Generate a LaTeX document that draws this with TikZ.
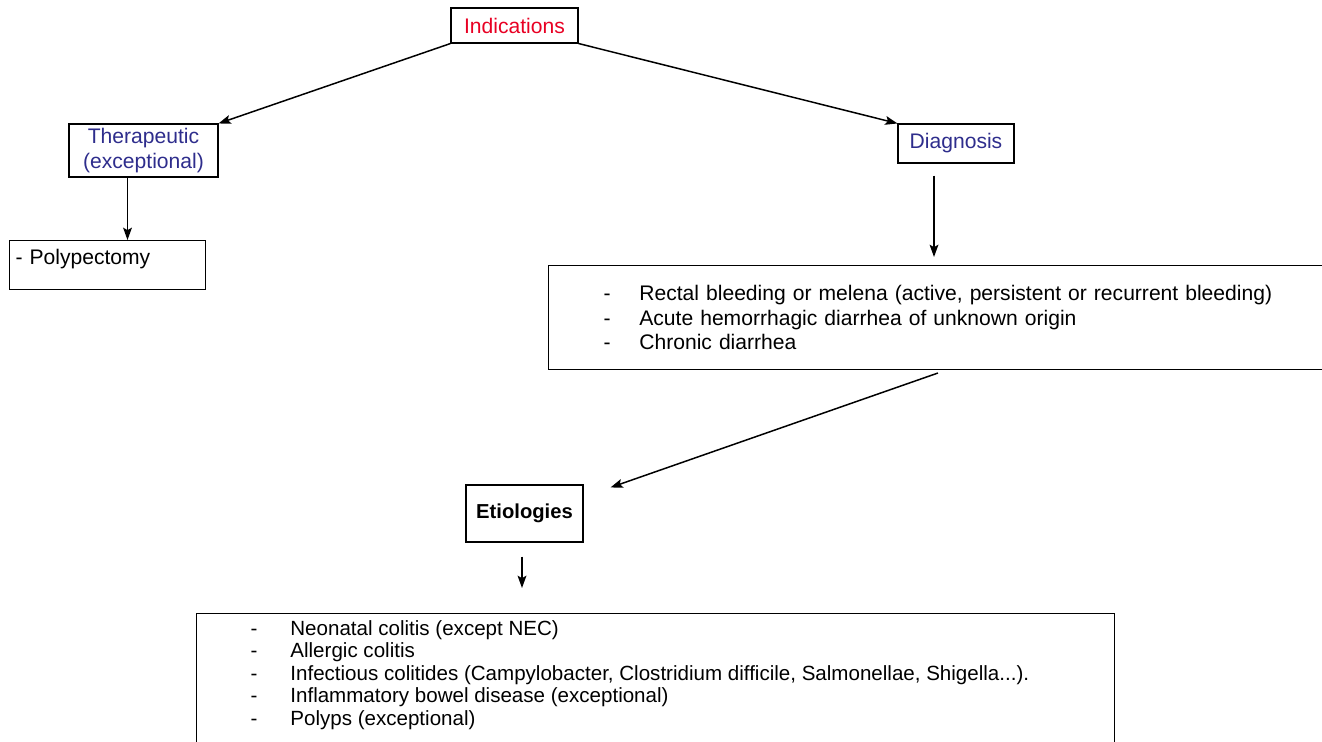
\documentclass[tikz,border=0pt]{standalone}
\usepackage{fontspec}
\setmainfont{Liberation Sans}
\usepackage{tikz}
\usetikzlibrary{arrows.meta, calc}

\definecolor{indred}{RGB}{232,0,35}
\definecolor{subblue}{RGB}{46,45,140}

\begin{document}
\begin{tikzpicture}[x=0.02cm, y=-0.02cm,
    box/.style={draw, line width=0.6pt, inner sep=0pt},
    arr/.style={-{Stealth[length=7pt, width=5pt, inset=1.4pt]}, line width=0.85pt},
    headfont/.style={font=\fontsize{12}{14.2}\selectfont}]
    \path[use as bounding box] (0,0) rectangle (1322,742);
    \clip (0,0) rectangle (1322,742);

    \node[box, headfont, text=indred, minimum width=2.54cm, minimum height=0.7cm] (ind) at (514.5,25.5) {Indications};
    \node[box, headfont, text=subblue, align=center, minimum width=2.98cm, minimum height=1.06cm] (ther) at (143.5,150.5) {Therapeutic\\(exceptional)};
    \node[box, headfont, text=subblue, minimum width=2.32cm, minimum height=0.78cm] (diag) at (956,143.5) {Diagnosis};
    \node[box, headfont, anchor=north west, text width=3.68cm, inner xsep=0.12cm, inner ysep=1.7pt,
          text height=12pt, text depth=12.4pt] (poly) at (9,240) {- Polypectomy};
    \node[box, anchor=north west, font=\fontsize{12}{13.9}\selectfont, align=left,
          text width=13.8cm, inner xsep=1.1cm, minimum height=2.08cm] (dlist) at (548,265)
        {\makebox[20.4pt][l]{-}Rectal bleeding or melena (active, persistent or recurrent bleeding)\\
         \makebox[20.4pt][l]{-}Acute hemorrhagic diarrhea of unknown origin\\
         \makebox[20.4pt][l]{-}Chronic diarrhea};
    \node[box, font=\fontsize{11.5}{13}\selectfont\bfseries, minimum width=2.34cm, minimum height=1.14cm] (etio) at (524.5,513.5) {Etiologies};
    \node[box, anchor=north west, inner xsep=1.08cm, inner ysep=0.14cm] (elist) at (196,613)
        {\begin{minipage}[c][2.8cm][t]{16.2cm}\fontsize{11.7}{12.8}\selectfont\raggedright
         \makebox[22.7pt][l]{-}Neonatal colitis (except NEC)\\
         \makebox[22.7pt][l]{-}Allergic colitis\\
         \makebox[22.7pt][l]{-}Infectious colitides (Campylobacter, Clostridium difficile, Salmonellae, Shigella...).\\
         \makebox[22.7pt][l]{-}Inflammatory bowel disease (exceptional)\\
         \makebox[22.7pt][l]{-}Polyps (exceptional)
         \end{minipage}};

    \coordinate (d1) at ([xshift=-0.44cm, yshift=-0.24cm]diag.south);
    \coordinate (d2) at ([yshift=0.16cm]d1 |- dlist.north);
    \coordinate (e1) at ([xshift=-0.05cm, yshift=-0.28cm]etio.south);
    \coordinate (e2) at ([yshift=0.5cm]e1 |- elist.north);

    \draw[arr] (ind.south west) -- (ther.north east);
    \draw[arr] (ind.south east) -- (diag.north west);
    \draw[arr] ([xshift=-0.32cm]ther.south) -- ([xshift=-0.32cm]ther.south |- poly.north);
    \draw[arr] (d1) -- (d2);
    \draw[arr] ([xshift=7.8cm, yshift=-0.06cm]dlist.south west) -- ([xshift=0.54cm, yshift=-0.06cm]etio.north east);
    \draw[arr] (e1) -- (e2);
\end{tikzpicture}
\end{document}
